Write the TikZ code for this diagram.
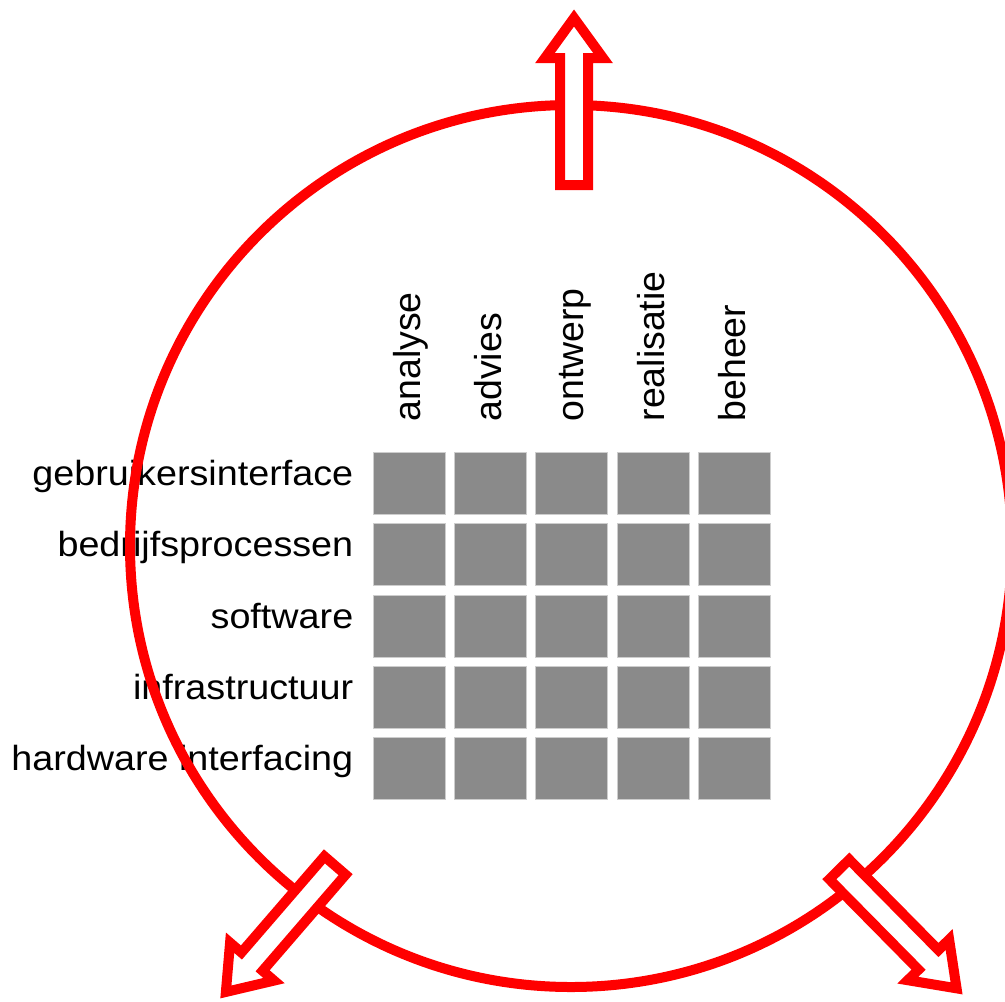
\documentclass[tikz,border=0pt]{standalone}
\usepackage{fontspec}
\setmainfont{Liberation Sans}
\newfontfamily\rowfont[FakeStretch=1.08]{Liberation Sans}
\definecolor{cellgray}{RGB}{138,138,138}
\definecolor{cellrim}{RGB}{205,205,205}
\begin{document}
\begin{tikzpicture}[x=0.75pt,y=-0.75pt,
  ring/.style={draw=red, line width=7.5pt},
  bigarrow/.style={draw=red, fill=white, line width=7.5pt, miter limit=10},
  cell/.style={fill=cellgray, draw=cellrim, line width=0.75pt, minimum width=54pt, minimum height=46.5pt, inner sep=0pt, outer sep=0pt},
  rowlab/.style={anchor=base east, inner sep=0pt, font=\rowfont\fontsize{26.2pt}{30pt}\selectfont},
  collab/.style={anchor=base west, inner sep=0pt, rotate=90, font=\fontsize{28.1pt}{32pt}\selectfont}]
\useasboundingbox (0,0) rectangle (1005,1001);
% grid of cells
\foreach \i in {0,...,4} {
  \foreach \j in {0,...,4} {
    \node[cell] (c\i\j) at ({409.3+81.3*\i},{483.6+71.2*\j}) {};
  }
}
% column labels
\node[collab] (l-analyse)   at (420.5,421.7) {analyse};
\node[collab] (l-advies)    at (501.8,421.7) {advies};
\node[collab] (l-ontwerp)   at (583.1,421.7) {ontwerp};
\node[collab] (l-realisatie) at (664.4,421.7) {realisatie};
\node[collab] (l-beheer)    at (745.7,421.7) {beheer};
% row labels
\node[rowlab] (r-gui)   at (353.5,485.6) {gebruikersinterface};
\node[rowlab] (r-bp)    at (353.5,556.8) {bedrijfsprocessen};
\node[rowlab] (r-sw)    at (353.5,628.0) {software};
\node[rowlab] (r-infra) at (353.5,699.2) {infrastructuur};
\node[rowlab] (r-hw)    at (353.5,770.4) {hardware interfacing};
% ring
\draw[ring] (571,546) circle[radius=441];
% arrows
\foreach \px/\py/\ang in {574/185/90, 335.0/865.5/229.2, 839.3/869.4/314.6} {
  \draw[bigarrow, shift={(\px,\py)}, rotate=\ang]
    (0,-14) -- (127,-14) -- (127,-29) -- (167,0) -- (127,29) -- (127,14) -- (0,14) -- cycle;
}
\end{tikzpicture}
\end{document}
